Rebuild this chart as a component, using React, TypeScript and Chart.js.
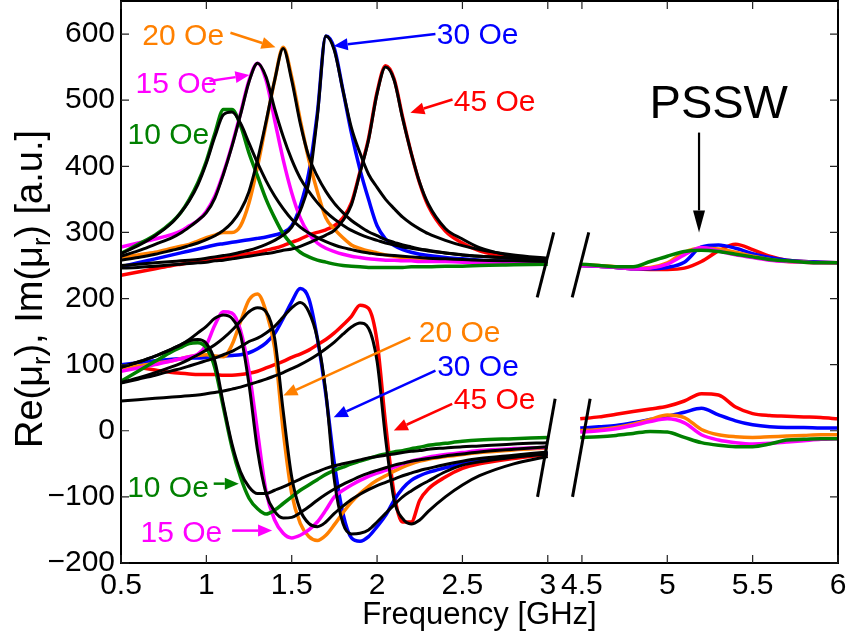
import React, { useEffect, useRef } from 'react';
import { Chart, registerables } from 'chart.js';

Chart.register(...registerables);

// ---------- data (frequency in GHz, values in a.u.) ----------
const FREQ = [0.5, 0.6, 0.7, 0.8, 0.85, 0.9, 0.95, 1.0, 1.05, 1.1, 1.15, 1.2, 1.25, 1.3, 1.35, 1.4, 1.45, 1.5, 1.55, 1.6, 1.65, 1.7, 1.75, 1.8, 1.85, 1.9, 1.95, 2.0, 2.05, 2.1, 2.15, 2.2, 2.25, 2.3, 2.4, 2.5, 2.6, 2.8, 3.0];

// Im(mu_r) measured
const IM_10 = [268, 282, 296, 316, 330, 350, 375, 408, 450, 486, 486, 462, 420, 385, 350, 322, 298, 282, 270, 263, 258, 255, 252, 250, 249, 248, 247, 247, 247, 247, 247, 248, 248, 248, 249, 249, 250, 251, 252];
const IM_15 = [278, 284, 290, 297, 302, 310, 318, 332, 355, 390, 432, 480, 530, 556, 530, 470, 410, 360, 322, 298, 284, 276, 271, 267, 264, 262, 260, 259, 258, 258, 257, 257, 256, 256, 256, 255, 255, 255, 255];
const IM_20 = [262, 266, 270, 276, 279, 282, 287, 292, 296, 300, 300, 310, 345, 400, 465, 530, 580, 535, 470, 410, 362, 322, 305, 292, 281, 276, 272, 269, 266, 264, 262, 261, 260, 259, 258, 257, 256, 256, 256];
const IM_30 = [248, 254, 260, 266, 269, 272, 275, 278, 281, 283, 285, 287, 289, 291, 293, 296, 300, 310, 340, 390, 480, 597, 578, 515, 450, 395, 350, 310, 290, 280, 274, 270, 267, 265, 262, 260, 258, 257, 256];
const IM_45 = [235, 240, 245, 250, 252, 254, 256, 258, 260, 262, 264, 266, 268, 270, 273, 276, 280, 285, 290, 296, 300, 304, 310, 322, 345, 392, 442, 512, 552, 532, 474, 420, 374, 340, 302, 284, 272, 262, 258];

// Im(mu_r) fits
const IM_FIT_10 = [268, 280, 295, 315, 330, 348, 372, 405, 445, 478, 482, 465, 435, 405, 378, 355, 336, 320, 308, 299, 292, 286, 281, 277, 274, 271, 269, 267, 266, 265, 264, 263, 262, 261, 260, 259, 258, 257, 256];
const IM_FIT_15 = [264, 272, 282, 292, 299, 308, 318, 330, 352, 388, 430, 478, 528, 556, 535, 487, 445, 410, 382, 362, 345, 331, 320, 311, 303, 297, 292, 288, 284, 281, 278, 276, 274, 272, 269, 266, 264, 261, 258];
const IM_FIT_20 = [258, 262, 267, 273, 276, 280, 284, 289, 295, 303, 315, 333, 362, 410, 468, 530, 578, 530, 465, 415, 385, 362, 344, 330, 318, 309, 301, 295, 289, 285, 281, 278, 275, 273, 269, 266, 264, 261, 258];
const IM_FIT_30 = [250, 252, 254, 256, 257, 258, 259, 261, 263, 265, 267, 270, 273, 277, 282, 288, 296, 308, 333, 375, 475, 597, 575, 515, 458, 420, 388, 368, 350, 336, 323, 313, 305, 298, 288, 280, 274, 266, 261];
const IM_FIT_45 = [246, 247, 249, 251, 252, 253, 254, 255, 257, 258, 260, 262, 264, 266, 268, 270, 273, 275, 279, 284, 290, 296, 303, 318, 342, 390, 440, 510, 550, 530, 472, 420, 375, 343, 306, 290, 277, 264, 258];

// Re(mu_r) measured
const RE_10 = [75, 90, 105, 120, 126, 132, 133, 125, 95, 35, -25, -70, -102, -118, -126, -120, -110, -100, -90, -82, -74, -66, -60, -55, -50, -46, -42, -38, -35, -32, -30, -27, -25, -22, -19, -16, -14, -12, -10];
const RE_15 = [90, 95, 100, 106, 109, 112, 116, 130, 160, 180, 178, 152, 90, -2, -92, -135, -155, -162, -158, -150, -138, -120, -100, -90, -82, -75, -69, -64, -60, -55, -50, -46, -43, -40, -36, -33, -30, -27, -25];
const RE_20 = [95, 98, 102, 106, 109, 112, 114, 115, 113, 112, 130, 165, 198, 207, 180, 125, 0, -95, -140, -160, -166, -158, -142, -124, -108, -95, -84, -75, -68, -61, -55, -50, -46, -43, -39, -36, -33, -29, -26];
const RE_30 = [100, 103, 106, 108, 109, 110, 110, 111, 112, 113, 114, 115, 118, 124, 133, 147, 170, 195, 215, 200, 140, 55, -50, -125, -162, -167, -160, -145, -128, -105, -87, -75, -68, -63, -56, -50, -45, -39, -34];
const RE_45 = [100, 96, 92, 88, 87, 86, 85, 85, 85, 84, 84, 85, 87, 90, 95, 100, 105, 111, 116, 122, 130, 138, 148, 160, 173, 190, 185, 135, 10, -95, -138, -138, -105, -88, -70, -57, -50, -42, -36];

// Re(mu_r) fits
const RE_FIT_10 = [96, 104, 113, 124, 130, 136, 138, 132, 105, 40, -20, -62, -85, -95, -95, -90, -85, -79, -73, -67, -62, -57, -53, -50, -47, -44, -41, -39, -37, -35, -33, -31, -30, -28, -26, -24, -23, -20, -18];
const RE_FIT_15 = [96, 104, 113, 124, 130, 138, 148, 158, 170, 175, 170, 145, 70, -30, -95, -122, -132, -131, -124, -115, -105, -96, -88, -81, -75, -69, -64, -60, -56, -52, -49, -46, -44, -42, -38, -35, -32, -28, -24];
const RE_FIT_20 = [73, 80, 88, 97, 102, 108, 115, 122, 130, 140, 152, 166, 180, 186, 180, 140, 30, -70, -120, -140, -145, -138, -125, -114, -104, -96, -89, -83, -78, -73, -68, -64, -60, -57, -51, -46, -42, -37, -32];
const RE_FIT_30 = [72, 78, 84, 91, 94, 98, 102, 106, 110, 115, 120, 127, 135, 140, 148, 158, 172, 186, 194, 180, 140, 58, -75, -140, -156, -155, -150, -138, -125, -112, -100, -91, -83, -76, -62, -52, -47, -40, -35];
const RE_FIT_45 = [45, 47, 49, 51, 52, 53, 54, 56, 58, 60, 63, 66, 70, 74, 78, 83, 88, 94, 100, 107, 115, 124, 134, 146, 157, 163, 155, 105, -12, -105, -133, -141, -135, -122, -100, -82, -68, -50, -39];

// right-hand segment (after the axis break)
const FREQ_R = [4.49, 4.6, 4.7, 4.8, 4.9, 5.0, 5.1, 5.2, 5.3, 5.4, 5.5, 5.6, 5.7, 5.8, 5.9, 6.0];
const IM_R_10 = [252, 250, 248, 248, 256, 264, 271, 273, 271, 267, 263, 259, 257, 255, 254, 254];
const IM_R_15 = [250, 249, 247, 245, 246, 252, 266, 277, 272, 266, 262, 258, 256, 255, 254, 254];
const IM_R_20 = [251, 250, 248, 246, 247, 254, 270, 276, 275, 270, 264, 259, 256, 255, 254, 254];
const IM_R_30 = [250, 249, 247, 245, 245, 247, 255, 278, 281, 276, 268, 262, 258, 256, 255, 254];
const IM_R_45 = [250, 249, 247, 245, 244, 244, 246, 256, 272, 282, 274, 264, 258, 256, 255, 254];
const RE_R_10 = [-10, -9, -7, -4, -1, -2, -10, -18, -22, -24, -24, -20, -14, -13, -12, -12];
const RE_R_15 = [-2, 0, 3, 8, 14, 18, 12, -6, -14, -18, -20, -19, -17, -15, -13, -12];
const RE_R_20 = [0, 2, 5, 10, 17, 24, 20, 2, -6, -9, -10, -9, -8, -7, -6, -6];
const RE_R_30 = [4, 6, 8, 12, 17, 22, 28, 34, 24, 15, 9, 6, 5, 5, 4, 4];
const RE_R_45 = [18, 21, 25, 29, 33, 37, 45, 56, 54, 36, 26, 23, 22, 21, 20, 18];

const X_TICKS = [0.5, 1, 1.5, 2, 2.5, 3, 4.5, 5, 5.5, 6];
const X_TICK_LABELS = ['0.5', '1', '1.5', '2', '2.5', '3', '4.5', '5', '5.5', '6'];
const Y_TICKS = [-200, -100, 0, 100, 200, 300, 400, 500, 600];

// axis break: frequencies from 4.5 GHz on are shifted left by 1.3 GHz on the drawn axis
const BREAK_SHIFT = 1.3;
const toAxis = (f: number) => (f < 3.5 ? f : f - BREAK_SHIFT);

const COLORS = { f10: '#008000', f15: '#ff00ff', f20: '#ff8000', f30: '#0000ff', f45: '#ff0000', fit: '#000000' };

// annotation text: [text, colour key, x(GHz), y, arrow x1, y1, x2, y2] (arrow optional)
const LABELS: [string, string, number, number, number[] | null][] = [
  ['20 Oe', 'f20', 0.625, 584, [1.141, 602, 1.405, 580]],
  ['15 Oe', 'f15', 0.585, 511, [1.018, 529, 1.252, 538]],
  ['10 Oe', 'f10', 0.538, 434, null],
  ['30 Oe', 'f30', 2.35, 584.5, [2.342, 600, 1.746, 582]],
  ['45 Oe', 'f45', 2.449, 483.7, [2.442, 501, 2.195, 481]],
  ['20 Oe', 'f20', 2.244, 133.7, [2.195, 140.8, 1.451, 53.2]],
  ['30 Oe', 'f30', 2.352, 83.4, [2.342, 91, 1.746, 20.4]],
  ['45 Oe', 'f45', 2.449, 33, [2.44, 40.6, 2.098, 0.3]],
  ['10 Oe', 'f10', 0.536, -100.5, [1.043, -80, 1.19, -80]],
  ['15 Oe', 'f15', 0.614, -168, [1.151, -151, 1.385, -151]],
];
const PSSW_LABEL: [string, number, number, number[]] = ['PSSW', 4.896, 473.6, [5.186, 451, 5.186, 300]];
const BREAK_MARKS = [
  [2.938, 201.7, 3.035, 300],
  [4.443, 201.7, 4.54, 300],
  [2.94, -100, 3.043, 48.5],
  [4.445, -100, 4.548, 48.5],
];

const FONT = "'Liberation Sans', Arial, Helvetica, sans-serif";

function series(freqs: number[], vals: number[], color: string, width: number) {
  return {
    data: freqs.map((f, i) => ({ x: toAxis(f), y: vals[i] })),
    borderColor: color,
    backgroundColor: color,
    borderWidth: width,
    pointRadius: 0,
    fill: false,
    cubicInterpolationMode: 'monotone' as const,
  };
}

function drawArrow(ctx: CanvasRenderingContext2D, x1: number, y1: number, x2: number, y2: number, color: string, lw = 2.5, head = 14, hw = 6) {
  const ang = Math.atan2(y2 - y1, x2 - x1);
  const bx = x2 - head * Math.cos(ang);
  const by = y2 - head * Math.sin(ang);
  ctx.strokeStyle = color;
  ctx.lineWidth = lw;
  ctx.beginPath();
  ctx.moveTo(x1, y1);
  ctx.lineTo(bx, by);
  ctx.stroke();
  ctx.fillStyle = color;
  ctx.beginPath();
  ctx.moveTo(x2, y2);
  ctx.lineTo(bx + hw * Math.sin(ang), by - hw * Math.cos(ang));
  ctx.lineTo(bx - hw * Math.sin(ang), by + hw * Math.cos(ang));
  ctx.closePath();
  ctx.fill();
}

const overlayPlugin = {
  id: 'overlay',
  afterDatasetsDraw(chart: any) {
    const { ctx, chartArea: a, scales } = chart;
    const xs = scales.x;
    const ys = scales.y;
    const px = (f: number) => xs.getPixelForValue(toAxis(f));
    const py = (v: number) => ys.getPixelForValue(v);
    ctx.save();
    ctx.strokeStyle = '#000';
    ctx.lineWidth = 3;
    for (const b of BREAK_MARKS) {
      ctx.beginPath();
      ctx.moveTo(px(b[0]), py(b[1]));
      ctx.lineTo(px(b[2]), py(b[3]));
      ctx.stroke();
    }
    ctx.lineWidth = 2;
    ctx.strokeStyle = '#000';
    ctx.strokeRect(a.left, a.top, a.right - a.left, a.bottom - a.top);
    ctx.lineWidth = 1.2;
    ctx.strokeStyle = '#222';
    ctx.beginPath();
    for (const t of X_TICKS) {
      const X = px(t);
      ctx.moveTo(X, a.bottom);
      ctx.lineTo(X, a.bottom - 8);
      ctx.moveTo(X, a.top);
      ctx.lineTo(X, a.top + 8);
    }
    for (const v of Y_TICKS) {
      const Y = py(v);
      ctx.moveTo(a.left, Y);
      ctx.lineTo(a.left + 8, Y);
      ctx.moveTo(a.right, Y);
      ctx.lineTo(a.right - 8, Y);
    }
    ctx.stroke();
    ctx.textAlign = 'left';
    ctx.textBaseline = 'alphabetic';
    for (const [text, ck, fx, fy, ar] of LABELS) {
      const color = (COLORS as any)[ck];
      ctx.font = `30px ${FONT}`;
      ctx.fillStyle = color;
      ctx.fillText(text, px(fx), py(fy));
      if (ar) drawArrow(ctx, px(ar[0]), py(ar[1]), px(ar[2]), py(ar[3]), color);
    }
    const [pt, pfx, pfy, par] = PSSW_LABEL;
    ctx.font = `47px ${FONT}`;
    ctx.fillStyle = '#000';
    ctx.fillText(pt, px(pfx), py(pfy));
    drawArrow(ctx, px(par[0]), py(par[1]), px(par[2]), py(par[3]), '#000', 2.2, 22, 6);
    ctx.restore();
  },
  afterDraw(chart: any) {
    const { ctx } = chart;
    ctx.save();
    const main = `38px ${FONT}`;
    const sub = `25px ${FONT}`;
    const parts: [string, boolean][] = [['Re(\u03bc', false], ['r', true], ['), Im(\u03bc', false], ['r', true], [') [a.u.]', false]];
    let total = 0;
    for (const [t, s] of parts) {
      ctx.font = s ? sub : main;
      total += ctx.measureText(t).width;
    }
    ctx.translate(42, 289);
    ctx.rotate(-Math.PI / 2);
    ctx.fillStyle = '#000';
    ctx.textBaseline = 'alphabetic';
    ctx.textAlign = 'left';
    let cx = -total / 2;
    for (const [t, s] of parts) {
      ctx.font = s ? sub : main;
      ctx.fillText(t, cx, s ? 8 : 0);
      cx += ctx.measureText(t).width;
    }
    ctx.restore();
  },
};

export default function App() {
  const ref = useRef<HTMLCanvasElement | null>(null);
  useEffect(() => {
    if (!ref.current) return;
    const datasets: any[] = [
      series(FREQ, IM_FIT_10, COLORS.fit, 3),
      series(FREQ, IM_FIT_15, COLORS.fit, 3),
      series(FREQ, IM_FIT_20, COLORS.fit, 3),
      series(FREQ, IM_FIT_30, COLORS.fit, 3),
      series(FREQ, IM_FIT_45, COLORS.fit, 3),
      series(FREQ, RE_FIT_10, COLORS.fit, 3),
      series(FREQ, RE_FIT_15, COLORS.fit, 3),
      series(FREQ, RE_FIT_20, COLORS.fit, 3),
      series(FREQ, RE_FIT_30, COLORS.fit, 3),
      series(FREQ, RE_FIT_45, COLORS.fit, 3),
      series(FREQ, IM_10, COLORS.f10, 3.5),
      series(FREQ, RE_10, COLORS.f10, 3.5),
      series(FREQ_R, IM_R_10, COLORS.f10, 3.5),
      series(FREQ_R, RE_R_10, COLORS.f10, 3.5),
      series(FREQ, IM_15, COLORS.f15, 3.5),
      series(FREQ, RE_15, COLORS.f15, 3.5),
      series(FREQ_R, IM_R_15, COLORS.f15, 3.5),
      series(FREQ_R, RE_R_15, COLORS.f15, 3.5),
      series(FREQ, IM_20, COLORS.f20, 3.5),
      series(FREQ, RE_20, COLORS.f20, 3.5),
      series(FREQ_R, IM_R_20, COLORS.f20, 3.5),
      series(FREQ_R, RE_R_20, COLORS.f20, 3.5),
      series(FREQ, IM_30, COLORS.f30, 3.5),
      series(FREQ, RE_30, COLORS.f30, 3.5),
      series(FREQ_R, IM_R_30, COLORS.f30, 3.5),
      series(FREQ_R, RE_R_30, COLORS.f30, 3.5),
      series(FREQ, IM_45, COLORS.f45, 3.5),
      series(FREQ, RE_45, COLORS.f45, 3.5),
      series(FREQ_R, IM_R_45, COLORS.f45, 3.5),
      series(FREQ_R, RE_R_45, COLORS.f45, 3.5),
    ];
    const chart = new Chart(ref.current, {
      type: 'line',
      data: { datasets },
      options: {
        responsive: false,
        animation: false,
        events: [],
        layout: { padding: { left: 0, right: 9, top: 1, bottom: 0 } },
        plugins: { legend: { display: false }, tooltip: { enabled: false } },
        scales: {
          x: {
            type: 'linear',
            min: 0.5,
            max: toAxis(6),
            grid: { display: false, drawTicks: false },
            border: { display: false },
            afterBuildTicks: (s: any) => {
              s.ticks = X_TICKS.map((t) => ({ value: toAxis(t) }));
            },
            afterFit: (s: any) => {
              s.height = 77;
              s.paddingLeft = 0;
              s.paddingRight = 0;
            },
            ticks: {
              autoSkip: false,
              maxRotation: 0,
              minRotation: 0,
              padding: 5,
              color: '#000',
              font: { family: FONT, size: 30 },
              callback: (_v: any, i: number) => X_TICK_LABELS[i],
            },
            title: {
              display: true,
              text: 'Frequency [GHz]',
              color: '#000',
              font: { family: FONT, size: 31 },
              padding: { top: 0, bottom: 6 },
            },
          },
          y: {
            type: 'linear',
            min: -200,
            max: 650,
            grid: { display: false, drawTicks: false },
            border: { display: false },
            afterBuildTicks: (s: any) => {
              s.ticks = Y_TICKS.map((v) => ({ value: v }));
            },
            afterFit: (s: any) => {
              s.width = 121;
              s.paddingTop = 0;
              s.paddingBottom = 0;
            },
            ticks: {
              padding: 6,
              color: '#000',
              font: { family: FONT, size: 30 },
              callback: (v: any) => (Number(v) < 0 ? '\u2212' + Math.abs(Number(v)) : String(v)),
            },
          },
        },
      },
      plugins: [overlayPlugin],
    } as any);
    return () => chart.destroy();
  }, []);
  return (
    <div style={{ position: 'fixed', left: 0, top: 0, width: 847, height: 640, background: '#fff' }}>
      <canvas ref={ref} width={847} height={640} style={{ display: 'block', width: 847, height: 640 }} />
    </div>
  );
}
